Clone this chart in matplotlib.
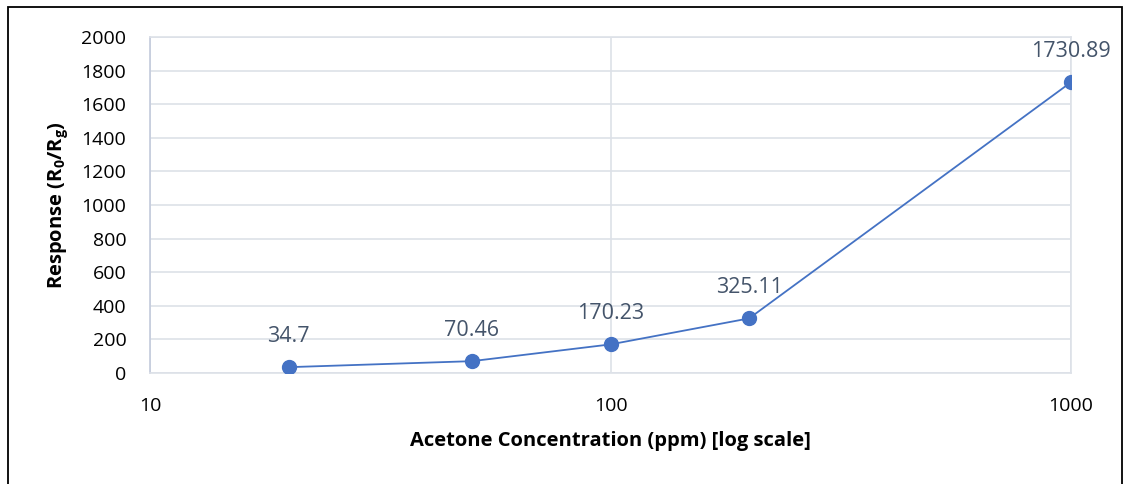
import matplotlib.pyplot as plt
from matplotlib.patches import Rectangle

# data
conc = [20, 50, 100, 200, 1000]
response = [34.7, 70.46, 170.23, 325.11, 1730.89]
labels = ['34.7', '70.46', '170.23', '325.11', '1730.89']

plt.rcParams['font.family'] = ['Open Sans', 'DejaVu Sans']
plt.rcParams['mathtext.fontset'] = 'custom'
plt.rcParams['mathtext.rm'] = 'Open Sans:bold'
plt.rcParams['mathtext.it'] = 'Open Sans:bold'
plt.rcParams['mathtext.bf'] = 'Open Sans:bold'

fig = plt.figure(figsize=(11.24, 4.84), dpi=100)
ax = fig.add_axes([150 / 1124, 1 - 373 / 484, (1071 - 150) / 1124, (373 - 37) / 484])

ax.plot(conc, response, color='#4472C4', lw=1.3, marker='o', ms=10,
        markerfacecolor='#4472C4', markeredgecolor='#4472C4', zorder=3)
for x, y, t in zip(conc, response, labels):
    ax.annotate(t, (x, y), xytext=(0, 22), textcoords='offset points',
                ha='center', va='center', fontsize=15.5, color='#44546A')

ax.set_xscale('log')
ax.set_xlim(10, 1000)
ax.set_ylim(0, 2000)
ax.set_yticks(range(0, 2001, 200))
ax.set_xticks([10, 100, 1000])
ax.set_xticklabels(['10', '100', '1000'])
ax.minorticks_off()

ax.grid(True, color='#dde1e8', lw=1.2)
ax.set_axisbelow(True)
for s in ['top', 'right', 'bottom']:
    ax.spines[s].set_color('#dde1e8')
    ax.spines[s].set_linewidth(1.2)
ax.spines['left'].set_color('#c3cbdc')
ax.spines['left'].set_linewidth(1.2)
ax.tick_params(length=0, labelsize=14, colors='black')
ax.tick_params(axis='x', pad=17)
ax.tick_params(axis='y', pad=17)

ax.set_xlabel('Acetone Concentration (ppm) [log scale]', fontsize=14.5,
              fontweight='bold', labelpad=12)
ax.set_ylabel(r'Response (R$_{0}$/R$_{g}$)', fontsize=14.5,
              fontweight='bold', labelpad=8)

# outer frame of the original figure
fig.patches.append(Rectangle((8 / 1124, -0.1), (1122 - 8) / 1124, 1.1 - 7 / 484,
                             transform=fig.transFigure, fill=False,
                             edgecolor='black', lw=1.3))

fig.savefig('out.png', dpi=100)
